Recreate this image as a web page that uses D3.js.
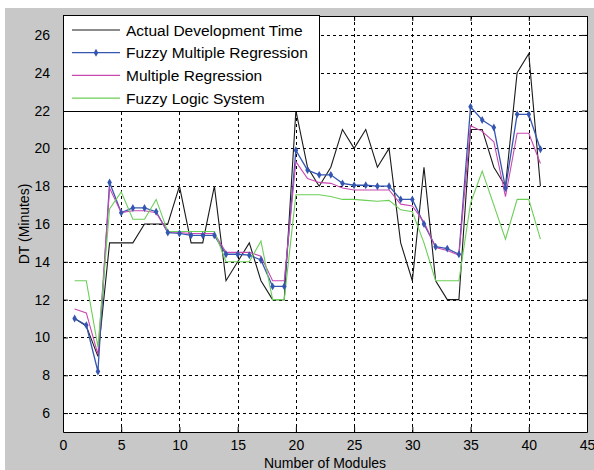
<!DOCTYPE html>
<html>
<head>
<meta charset="utf-8">
<script src="https://cdn.jsdelivr.net/npm/d3@7"></script>
<style>
  body { margin: 0; background: #fff; }
  text { font-family: "Liberation Sans", Arial, sans-serif; }
</style>
</head>
<body>
<main></main>
<script>
// development time per module, four series

const modules = [1, 2, 3, 4, 5, 6, 7, 8, 9, 10, 11, 12, 13, 14, 15, 16, 17, 18, 19, 20,
  21, 22, 23, 24, 25, 26, 27, 28, 29, 30, 31, 32, 33, 34, 35, 36, 37, 38, 39, 40, 41];

const actual = [11, 10.6, 9, 15, 15, 15, 16, 16, 16, 18, 15, 15, 18, 13, 14, 15, 13, 12, 12, 22,
  19, 18, 19, 21, 20, 21, 19, 20, 15, 13, 19, 13, 12, 12, 21, 21, 19, 18, 24, 25, 18];

const fuzzyMultReg = [11, 10.65, 8.2, 18.2, 16.6, 16.85, 16.85, 16.65, 15.55, 15.5, 15.4, 15.4, 15.4, 14.4, 14.4, 14.35, 14.1, 12.7, 12.7, 19.9,
  18.85, 18.6, 18.6, 18.15, 18.05, 18.05, 18, 18, 17.3, 17.3, 16, 14.8, 14.7, 14.4, 22.2, 21.5, 21.1, 17.9, 21.8, 21.8, 19.95];

const multReg = [11.5, 11.3, 9.1, 17.9, 16.6, 16.7, 16.7, 16.6, 15.6, 15.55, 15.5, 15.5, 15.5, 14.5, 14.5, 14.5, 14.3, 13, 13, 19.3,
  18.4, 18.2, 18.15, 17.9, 17.8, 17.8, 17.8, 17.8, 17.05, 16.95, 16.1, 14.75, 14.6, 14.35, 21.2, 20.9, 20.35, 17.45, 20.8, 20.8, 19.2];

const fuzzyLogic = [13, 13, 9.5, 16.8, 17.7, 16.25, 16.25, 17.3, 15.6, 15.6, 15.6, 15.6, 15.6, 14, 14, 14, 15.1, 12, 12, 17.55,
  17.55, 17.55, 17.45, 17.3, 17.3, 17.25, 17.2, 17.25, 16.75, 16.65, 15, 13, 13, 13, 17.1, 18.8, 17, 15.2, 17.3, 17.3, 15.2];

const xTicks = [0, 5, 10, 15, 20, 25, 30, 35, 40, 45];
const yTicks = [6, 8, 10, 12, 14, 16, 18, 20, 22, 24, 26];

const seriesNames = ["Actual Development Time", "Fuzzy Multiple Regression", "Multiple Regression", "Fuzzy Logic System"];
const seriesColors = ["#1a1a1a", "#3556b0", "#c848b0", "#6ccf58"];
const seriesValues = [actual, fuzzyMultReg, multReg, fuzzyLogic];

let width = 594,
    height = 470;

let plot = { left: 63, right: 587, top: 16, bottom: 432 };

let svg = d3.select("main").append("svg")
  .attr("width", width)
  .attr("height", height);

// figure background
svg.append("rect").attr("width", width).attr("height", height).attr("fill", "#fff");
svg.append("rect").attr("x", 5).attr("y", 8).attr("width", width - 5).attr("height", height - 8).attr("fill", "#c8c8c8");
svg.append("rect")
  .attr("x", plot.left).attr("y", plot.top)
  .attr("width", plot.right - plot.left).attr("height", plot.bottom - plot.top)
  .attr("fill", "#fff");

let x = d3.scaleLinear().domain([0, 45]).range([plot.left, plot.right]);
let y = d3.scaleLinear().domain([5, 27]).range([plot.bottom, plot.top]);

// Dashed grid.
let grid = svg.append("g").attr("stroke", "#000").attr("stroke-width", 1).attr("stroke-dasharray", "3,3");
grid.selectAll("line.gx").data(xTicks.filter(t => t > 0 && t < 45)).enter().append("line")
  .attr("class", "gx")
  .attr("x1", d => Math.round(x(d)) + 0.5).attr("x2", d => Math.round(x(d)) + 0.5)
  .attr("y1", plot.top).attr("y2", plot.bottom);
grid.selectAll("line.gy").data(yTicks).enter().append("line")
  .attr("class", "gy")
  .attr("y1", d => Math.round(y(d)) + 0.5).attr("y2", d => Math.round(y(d)) + 0.5)
  .attr("x1", plot.left).attr("x2", plot.right);

// Series lines.
let line = d3.line().x((d, i) => x(modules[i])).y(d => y(d));
let series = svg.append("g").attr("fill", "none");
seriesValues.forEach(function(vals, k) {
  series.append("path")
    .attr("d", line(vals))
    .attr("stroke", seriesColors[k])
    .attr("stroke-width", k == 1 ? 1.3 : 1.1);
});

// FMR markers
svg.append("g").selectAll("path").data(fuzzyMultReg).enter().append("path")
  .attr("transform", (d, i) => `translate(${x(modules[i])},${y(d)})`)
  .attr("d", d3.symbol(d3.symbolDiamond, 18))
  .attr("fill", seriesColors[1]);

// Axes, ticks inside like matlab.
function styleAxis(g) {
  g.select(".domain").attr("stroke", "#000");
  g.selectAll(".tick line").attr("stroke", "#000");
  g.selectAll("text").attr("fill", "#000").attr("font-size", "14px");
}

svg.append("g")
  .attr("transform", `translate(0,${plot.bottom})`)
  .call(d3.axisBottom(x).tickValues(xTicks).tickSize(-5).tickSizeOuter(0).tickPadding(8))
  .call(styleAxis);

svg.append("g")
  .attr("transform", `translate(0,${plot.top})`)
  .call(d3.axisTop(x).tickValues(xTicks).tickSize(-5).tickSizeOuter(0).tickFormat(""))
  .call(styleAxis);

svg.append("g")
  .attr("transform", `translate(${plot.left},0)`)
  .call(d3.axisLeft(y).tickValues(yTicks).tickSize(-5).tickSizeOuter(0).tickPadding(13))
  .call(styleAxis);

svg.append("g")
  .attr("transform", `translate(${plot.right},0)`)
  .call(d3.axisRight(y).tickValues(yTicks).tickSize(-5).tickSizeOuter(0).tickFormat(""))
  .call(styleAxis);

// Axis titles.
svg.append("text")
  .attr("x", (plot.left + plot.right) / 2).attr("y", 468)
  .attr("text-anchor", "middle").attr("font-size", "14px")
  .text("Number of Modules");

svg.append("text")
  .attr("transform", `translate(29,${(plot.top + plot.bottom) / 2}) rotate(-90)`)
  .attr("text-anchor", "middle").attr("font-size", "14px")
  .text("DT (Minutes)");

// Legend box.
let legend = svg.append("g");
legend.append("rect")
  .attr("x", plot.left + 0.5).attr("y", 15.5)
  .attr("width", 256).attr("height", 96)
  .attr("fill", "#fff").attr("stroke", "#000");

seriesNames.forEach(function(name, k) {
  let ly = 30 + k * 22.7;
  legend.append("line")
    .attr("x1", 72).attr("x2", 120).attr("y1", ly).attr("y2", ly)
    .attr("stroke", seriesColors[k]).attr("stroke-width", 1.2);
  if (k == 1) {
    legend.append("path")
      .attr("transform", `translate(96,${ly})`)
      .attr("d", d3.symbol(d3.symbolDiamond, 18))
      .attr("fill", seriesColors[1]);
  }
  legend.append("text")
    .attr("x", 126).attr("y", ly + 5.5)
    .attr("font-size", "15.5px")
    .text(name);
});
</script>
</body>
</html>
